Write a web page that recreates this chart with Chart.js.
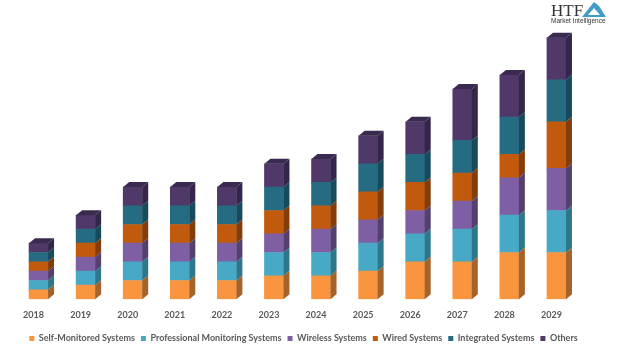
<!DOCTYPE html>
<html>
<head>
<meta charset="utf-8">
<style>
  html, body { margin: 0; padding: 0; background: #fff; }
  canvas { display: block; }
</style>
<script src="https://cdn.jsdelivr.net/npm/chart.js@4"></script>
</head>
<body>
<canvas id="stackedChart" width="623" height="355"></canvas>
<script>
const years = ["2018", "2019", "2020", "2021", "2022", "2023", "2024", "2025", "2026", "2027", "2028", "2029"];

const selfMonitored = [1, 1.5, 2, 2, 2, 2.5, 2.5, 3, 4, 4, 5, 5];
const professional = [1, 1.5, 2, 2, 2, 2.5, 2.5, 3, 3, 3.5, 4, 4.5];
const wireless = [1, 1.5, 2, 2, 2, 2, 2.5, 2.5, 2.5, 3, 4, 4.5];
const wired = [1, 1.5, 2, 2, 2, 2.5, 2.5, 3, 3, 3, 2.5, 5];
const integrated = [1, 1.5, 2, 2, 2, 2.5, 2.5, 3, 3, 3.5, 4, 4.5];
const others = [1, 1.5, 2, 2, 2, 2.5, 2.5, 3, 3.5, 5.5, 4.5, 4.5];

const frontColors = ["#F9943F", "#47A9C6", "#7F5FA3", "#C25A0E", "#256C83", "#503868"];
const sideColors = ["#A4632B", "#2E7689", "#54406E", "#823D0B", "#174A5B", "#33264A"];
const topColor = "#3A2A50";
const depthX = 6;
const depthY = 5;

// faces on the side and top of each bar
const bars3d = {
    id: "bars3d",
    afterLayout(chart) {
        // legend sits a little right of the plot centre
        chart.legend.left += 6;
        chart.legend.right += 6;
    },
    afterDatasetsDraw(chart) {
        const c = chart.ctx;
        chart.data.datasets.forEach((ds, i) => {
            chart.getDatasetMeta(i).data.forEach((bar) => {
                const right = bar.x + bar.width / 2;
                const left = bar.x - bar.width / 2;
                c.fillStyle = sideColors[i];
                c.beginPath();
                c.moveTo(right, bar.base);
                c.lineTo(right + depthX, bar.base - depthY);
                c.lineTo(right + depthX, bar.y - depthY);
                c.lineTo(right, bar.y);
                c.closePath();
                c.fill();
                if (i === chart.data.datasets.length - 1) {
                    c.fillStyle = topColor;
                    c.beginPath();
                    c.moveTo(left, bar.y);
                    c.lineTo(left + depthX, bar.y - depthY);
                    c.lineTo(right + depthX, bar.y - depthY);
                    c.lineTo(right, bar.y);
                    c.closePath();
                    c.fill();
                }
            });
        });
    },
};

const logo = {
    id: "logo",
    afterDraw(chart) {
        const c = chart.ctx;
        c.save();
        c.fillStyle = "#3F9CCB";
        c.beginPath();
        c.moveTo(582, 17);
        c.lineTo(594, 2);
        c.lineTo(599, 6);
        c.lineTo(606, 17);
        c.closePath();
        c.fill();
        c.fillStyle = "#fff";
        c.beginPath();
        c.moveTo(588, 15);
        c.lineTo(594, 8);
        c.lineTo(600, 15);
        c.closePath();
        c.fill();
        c.fillStyle = "#333";
        c.textBaseline = "alphabetic";
        c.font = "17px 'Liberation Serif'";
        c.fillText("HTF", 551, 16);
        c.font = "6.5px 'Liberation Sans'";
        c.fillText("Market Intelligence", 551, 23);
        c.restore();
    },
};

const seriesNames = ["Self-Monitored Systems", "Professional Monitoring Systems", "Wireless Systems", "Wired Systems", "Integrated Systems", "Others"];
const seriesValues = [selfMonitored, professional, wireless, wired, integrated, others];

new Chart(document.getElementById("stackedChart"), {
    type: "bar",
    data: {
        labels: years,
        datasets: seriesNames.map((name, i) => ({
            label: name,
            data: seriesValues[i],
            backgroundColor: frontColors[i],
            barThickness: 19,
        })),
    },
    options: {
        responsive: false,
        animation: false,
        layout: { padding: { left: 15, right: 43, top: 19, bottom: 2 } },
        scales: {
            x: {
                stacked: true,
                grid: { display: false },
                border: { display: false },
                afterFit(scale) {
                    scale.height += 6;
                },
                ticks: {
                    color: "#595959",
                    font: { family: "Lato", size: 9, weight: "bold" },
                    labelOffset: -5,
                    padding: 2,
                    maxRotation: 0,
                },
            },
            y: {
                stacked: true,
                display: false,
                min: 0,
                max: 30,
            },
        },
        plugins: {
            tooltip: { enabled: false },
            legend: {
                position: "bottom",
                labels: {
                    boxWidth: 5,
                    boxHeight: 5,
                    padding: 6,
                    color: "#595959",
                    font: { family: "Lato", size: 9, weight: "bold" },
                },
            },
        },
    },
    plugins: [bars3d, logo],
});
</script>
</body>
</html>
